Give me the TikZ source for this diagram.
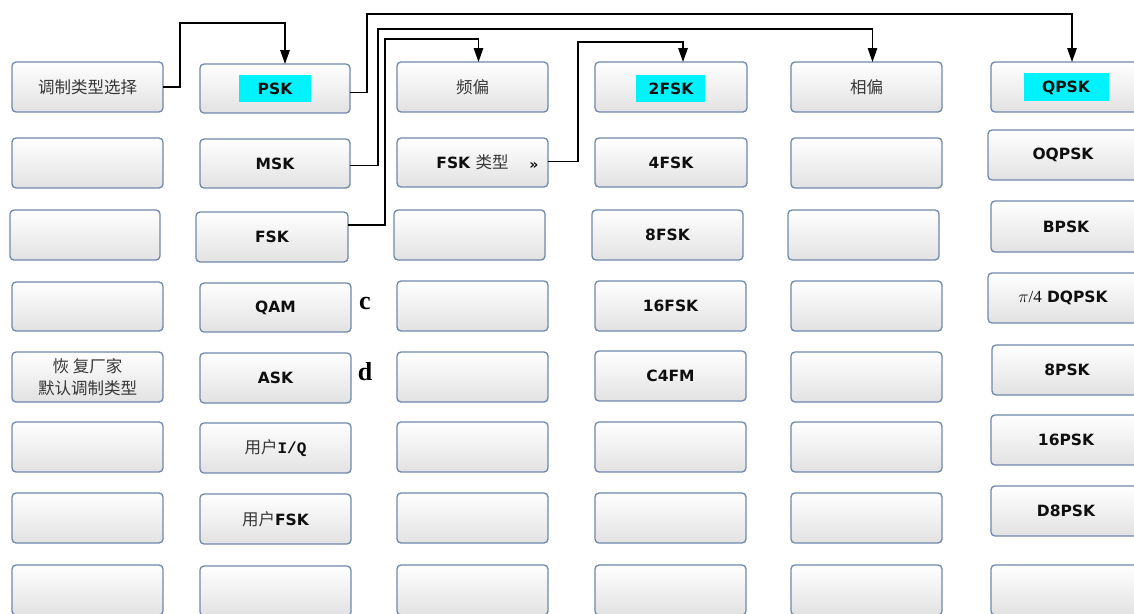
\documentclass[tikz,border=0pt]{standalone}
\usepackage{fontspec}
\setmainfont{DejaVu Sans}
\newfontfamily\cjk{Noto Sans CJK SC}
\newfontfamily\serifface{Liberation Serif}
\newfontfamily\monoface{Liberation Mono}
\usetikzlibrary{arrows.meta,calc}

\definecolor{btnedge}{RGB}{112,136,172}
\definecolor{btnlow}{RGB}{226,226,226}
\definecolor{cjkgray}{RGB}{55,55,55}
\definecolor{txtdark}{RGB}{15,15,15}
\definecolor{selmark}{RGB}{0,242,250}

\tikzset{
  btn/.style={draw=btnedge, line width=1.3pt, rounded corners=4pt,
    top color=white, bottom color=btnlow, inner sep=0pt, outer sep=0pt,
    font=\fontsize{15.5}{17}\selectfont\bfseries, text=txtdark, align=center},
  btntext/.style={inner sep=0pt, font=\fontsize{15.5}{17}\selectfont\bfseries,
    text=txtdark, align=center},
  wire/.style={draw=black, line width=1.3pt},
  arr/.style={wire, -{Triangle[length=14pt,width=9.5pt]}},
  tag/.style={inner sep=0pt, font=\serifface\fontsize{26}{26}\selectfont\bfseries},
}

% \btn{name}{x1}{y1}{x2}{y2}{text}
\newcommand\btn[6]{%
  \node[btn, minimum width={#4-#2}, minimum height={#5-#3}]
    (#1) at ({(#2+#4)/2},{(#3+#5)/2}) {#6};}
\newcommand\zh[1]{{\cjk\mdseries\fontsize{16.5}{19}\selectfont\color{cjkgray}#1}}

\begin{document}
\begin{tikzpicture}[x=1pt, y=-1pt]
\useasboundingbox (0,0) rectangle (1134,613);
\fill[white] (0,0) rectangle (1134,613);
\clip (0,0) rectangle (1134,613);

% column 1
\btn{s1}{12}{62}{163}{112}{\zh{调制类型选择}}
\btn{s2}{12}{138}{163}{188}{}
\btn{s3}{10}{210}{160}{260}{}
\btn{s4}{12}{282}{163}{331}{}
\btn{s5}{12}{352}{163}{402}{\zh{恢 复厂家}\\[5pt]\zh{默认调制类型}}
\btn{s6}{12}{422}{163}{472}{}
\btn{s7}{12}{493}{163}{543}{}
\btn{s8}{12}{565}{163}{615}{}

% column 2
\btn{m1}{200}{64}{350}{113}{}
\btn{m2}{200}{139}{350}{188}{MSK}
\btn{m3}{196}{212}{348}{262}{FSK}
\btn{m4}{200}{283}{351}{332}{QAM}
\btn{m5}{200}{353}{351}{403}{ASK}
\btn{m6}{200}{423}{351}{473}{\zh{用户}{\monoface\bfseries\fontsize{16}{17}\selectfont I/Q}}
\btn{m7}{200}{494}{351}{544}{\zh{用户}FSK}
\btn{m8}{200}{566}{351}{616}{}

% column 3
\btn{f1}{397}{62}{548}{112}{\zh{频偏}}
\btn{f2}{397}{138}{548}{187}{FSK \zh{类型}}
\btn{f3}{394}{210}{545}{260}{}
\btn{f4}{397}{281}{548}{331}{}
\btn{f5}{397}{352}{548}{402}{}
\btn{f6}{397}{422}{548}{472}{}
\btn{f7}{397}{493}{548}{543}{}
\btn{f8}{397}{565}{548}{615}{}

% column 4
\btn{t1}{595}{62}{747}{112}{}
\btn{t2}{595}{138}{747}{187}{4FSK}
\btn{t3}{592}{210}{743}{260}{8FSK}
\btn{t4}{595}{281}{746}{331}{16FSK}
\btn{t5}{595}{351}{746}{401}{C4FM}
\btn{t6}{595}{422}{746}{472}{}
\btn{t7}{595}{493}{746}{543}{}
\btn{t8}{595}{565}{746}{615}{}

% column 5
\btn{p1}{791}{62}{942}{112}{\zh{相偏}}
\btn{p2}{791}{138}{942}{188}{}
\btn{p3}{788}{210}{939}{260}{}
\btn{p4}{791}{281}{942}{331}{}
\btn{p5}{791}{352}{942}{402}{}
\btn{p6}{791}{422}{942}{472}{}
\btn{p7}{791}{493}{942}{543}{}
\btn{p8}{791}{565}{942}{615}{}

% column 6
\btn{q1}{991}{62}{1141}{112}{}
\btn{q2}{988}{130}{1138}{180}{OQPSK}
\btn{q3}{991}{201}{1141}{252}{BPSK}
\btn{q4}{988}{273}{1138}{323}{{\serifface\mdseries\fontsize{17}{18}\selectfont$\pi$/4}\,\,DQPSK}
\btn{q5}{992}{345}{1142}{395}{8PSK}
\btn{q6}{991}{415}{1141}{465}{16PSK}
\btn{q7}{991}{486}{1141}{536}{D8PSK}
\btn{q8}{991}{565}{1141}{615}{}

% highlighted current selections
\fill[selmark] (239,75) rectangle (311,102);
\node[btntext] (m1t) at (275,89) {PSK};
\fill[selmark] (636,75) rectangle (705,102);
\node[btntext] (t1t) at (671,89) {2FSK};
\fill[selmark] (1024,73) rectangle (1109,101);
\node[btntext] (q1t) at (1066,88) {QPSK};

% submenu marker
\node[btntext, font=\fontsize{14}{14}\selectfont\bfseries] (f2m) at (534,166) {»};

% side tags
\node[tag] (tagc) at (365,303) {c};
\node[tag] (tagd) at (365,372) {d};

% menu links
\draw[arr] (s1.east) -| (180,23) -| ($(m1.north)+(10,0)$);
\draw[arr] ($(m1.east)+(0,4)$) -| (367,14) -| ($(q1.north)+(6,0)$);
\draw[arr] ($(m2.east)+(0,2)$) -| (378,29) -| ($(p1.north)+(6,0)$);
\draw[arr] ($(m3.east)+(0,-12)$) -| (385,39) -| ($(f1.north)+(6,0)$);
\draw[arr] ($(f2.east)+(0,-1)$) -| (578,42) -| ($(t1.north)+(12,0)$);
\end{tikzpicture}
\end{document}
